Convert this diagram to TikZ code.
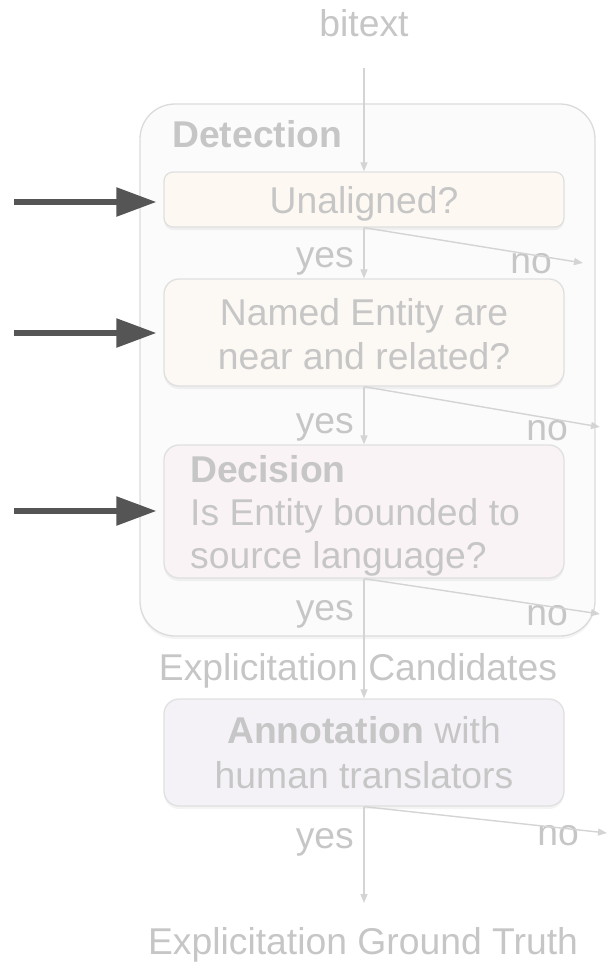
\documentclass[tikz,border=0pt]{standalone}
\usepackage{fontspec}
\setmainfont{Liberation Sans}
\usetikzlibrary{arrows.meta,shadows}

\definecolor{txtgray}{RGB}{198,198,198}
\definecolor{linegray}{RGB}{212,212,212}
\definecolor{panelfill}{RGB}{251,251,251}
\definecolor{panelline}{RGB}{219,219,219}
\definecolor{boxline}{RGB}{224,224,224}
\definecolor{unalfill}{RGB}{253,249,242}
\definecolor{namedfill}{RGB}{252,248,243}
\definecolor{decisfill}{RGB}{249,243,245}
\definecolor{annotfill}{RGB}{244,242,246}
\definecolor{pointer}{RGB}{85,85,85}

\begin{document}
\begin{tikzpicture}[x=1pt,y=-1pt,
  lbl/.style={text=txtgray, font=\fontsize{37.3}{44}\selectfont, inner sep=0pt, anchor=base},
  softshadow/.style={drop shadow={shadow xshift=0pt, shadow yshift=-3pt, opacity=0.09}},
  panel/.style={draw=panelline, fill=panelfill, line width=1.3pt, rounded corners=35pt,
    inner sep=0pt, softshadow},
  stepbox/.style={draw=boxline, line width=1.3pt, rounded corners=15pt, inner sep=0pt,
    minimum width=400pt, softshadow},
  flow/.style={draw=linegray, line width=1.4pt, -{Triangle[length=9pt,width=7pt]}},
  pointerarrow/.style={draw=pointer, line width=5.5pt, -{Triangle[length=40pt,width=28pt]}}
]
\useasboundingbox (0,0) rectangle (608,963);

% outer detection panel
\node[panel, minimum width=455pt, minimum height=532pt] (det) at (367.5,370) {};

% step boxes
\node[stepbox, fill=unalfill, minimum height=55pt, rounded corners=9pt] (unal) at (364,199.5) {};
\node[stepbox, fill=namedfill, minimum height=107pt] (named) at (364,332.5) {};
\node[stepbox, fill=decisfill, minimum height=133pt] (decis) at (364,511.5) {};
\node[stepbox, fill=annotfill, minimum height=107pt] (annot) at (364,752.5) {};

% texts
\node[lbl] (bitext) at (364,37) {bitext};
\node[lbl, anchor=base west] (dettitle) at (172,147) {\bfseries Detection};
\node[lbl] (unaltxt) at (364,213) {Unaligned?};
\node[lbl] (namedA) at (364,325) {Named Entity are};
\node[lbl] (namedB) at (364,369) {near and related?};
\node[lbl, anchor=base west] (decA) at (190,482) {\bfseries Decision};
\node[lbl, anchor=base west] (decB) at (190,525) {Is Entity bounded to};
\node[lbl, anchor=base west] (decC) at (190,568) {source language?};
\node[lbl] (cand) at (358,680) {Explicitation Candidates};
\node[lbl] (annA) at (364,743) {\textbf{Annotation} with};
\node[lbl] (annB) at (364,788) {human translators};
\node[lbl] (truth) at (363,954) {Explicitation Ground Truth};

% yes / no labels
\node[lbl, anchor=base east] (yes1) at (354,267) {yes};
\node[lbl] (no1) at (531,273) {no};
\node[lbl, anchor=base east] (yes2) at (354,433) {yes};
\node[lbl] (no2) at (547,440) {no};
\node[lbl, anchor=base east] (yes3) at (354,620) {yes};
\node[lbl] (no3) at (547,625) {no};
\node[lbl, anchor=base east] (yes4) at (354,848) {yes};
\node[lbl] (no4) at (558,845) {no};

% free ends of connectors
\coordinate (in) at (364,68);
\coordinate (out) at (364,903);
\coordinate (rejA) at (583,263);
\coordinate (rejB) at (600,427);
\coordinate (rejC) at (600,614);
\coordinate (rejD) at (607,833);

% main flow
\draw[flow] (in) -- (unal.north);
\draw[flow] (unal.south) -- (named.north);
\draw[flow] (named.south) -- (decis.north);
\draw[flow] (decis.south) -- (annot.north);
\draw[flow] (annot.south) -- (out);

% rejections
\draw[flow] (unal.south) -- (rejA);
\draw[flow] (named.south) -- (rejB);
\draw[flow] (decis.south) -- (rejC);
\draw[flow] (annot.south) -- (rejD);

% pointers on the left
\coordinate (pA) at (14,202);
\coordinate (pB) at (14,333);
\coordinate (pC) at (14,511);
\draw[pointerarrow] (pA) -- ([xshift=-7pt]pA -| unal.west);
\draw[pointerarrow] (pB) -- ([xshift=-7pt]pB -| named.west);
\draw[pointerarrow] (pC) -- ([xshift=-7pt]pC -| decis.west);
\end{tikzpicture}
\end{document}
